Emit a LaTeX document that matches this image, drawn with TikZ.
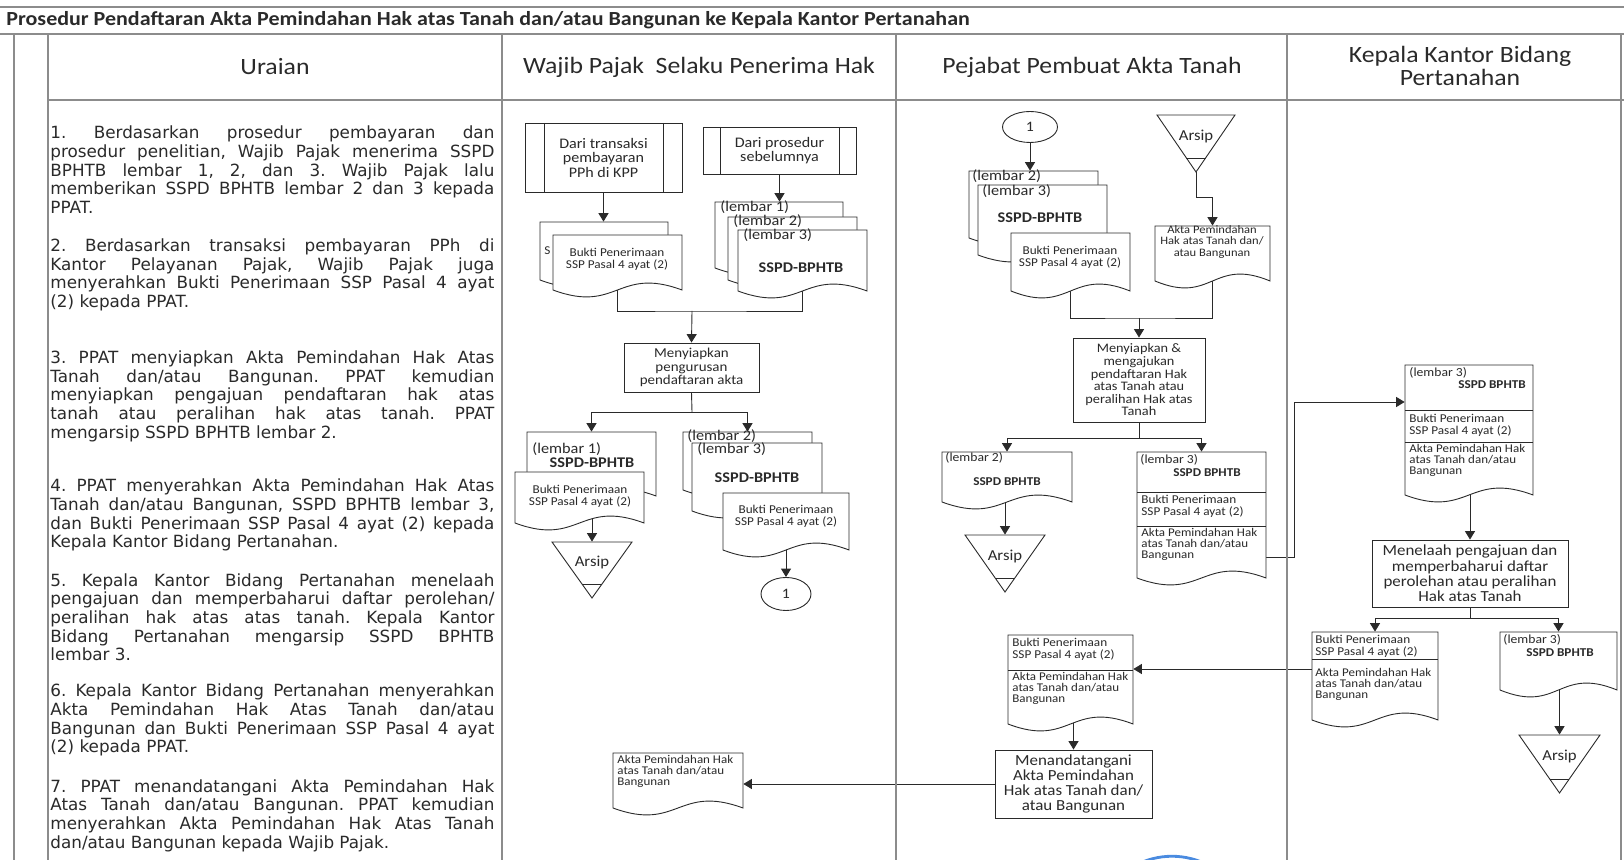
\documentclass[tikz,border=0pt]{standalone}
\usepackage{fontspec}
\setmainfont[FakeStretch=1.1]{Carlito}
\newfontfamily\urfont{DejaVu Sans}
\usetikzlibrary{arrows.meta,shapes.geometric,fit,backgrounds}
\tolerance=10000
\hbadness=10000
\frenchspacing
\definecolor{ink}{HTML}{2A2A2A}
\definecolor{frame}{HTML}{8C8C8C}
\definecolor{stampblue}{HTML}{4A8BE0}
\tikzset{
  shp/.style={draw=ink,line width=0.45pt,fill=white},
  ln/.style={draw=ink,line width=0.45pt},
  arr/.style={ln,-{Triangle[length=4.2pt,width=5pt]}},
  frm/.style={draw=frame,line width=0.65pt},
  tx/.style={inner sep=0pt,text=ink},
  hdr/.style={tx,align=center,font=\fontsize{11.7}{11.5}\selectfont},
  urp/.style={tx,anchor=north west,text width=222pt,align=justify,font=\urfont\fontsize{8.4}{9.32}\selectfont\frenchspacing},
  pptxt/.style={tx,align=center,font=\fontsize{7.3}{7.25}\selectfont},
  boxtxt/.style={tx,align=center,font=\fontsize{6.8}{6.6}\selectfont},
  bigbox/.style={tx,align=center,font=\fontsize{7.7}{7.6}\selectfont},
  smc/.style={tx,align=center,font=\fontsize{6}{6}\selectfont},
  sml/.style={tx,align=left,anchor=west,font=\fontsize{6}{6}\selectfont},
  smt/.style={tx,align=left,anchor=west,font=\fontsize{5.9}{5.5}\selectfont},
  lem/.style={tx,anchor=west,font=\fontsize{7.4}{7.4}\selectfont},
  lemb/.style={tx,font=\bfseries\fontsize{7.4}{7.4}\selectfont},
  lems/.style={tx,anchor=west,font=\fontsize{6.2}{6.2}\selectfont},
  smb/.style={tx,font=\bfseries\fontsize{6}{6}\selectfont},
  arsipt/.style={tx,font=\fontsize{7.6}{7.6}\selectfont},
  circ/.style={shp,ellipse,inner sep=0pt,text=ink,font=\fontsize{7.2}{7.2}\selectfont},
}
% document shape: name, x1, ytop, x2, ybottom
\newcommand\docshp[5]{%
  \draw[shp] (#2,#3) -- (#4,#3) -- (#4,#5) .. controls ({(#2+#4)/2},{#5-24}) and ({(#2+#4)/2},{#5+24}) .. (#2,#5) -- cycle;
  \node[fit={(#2,#3) (#4,#5)},inner sep=0pt] (#1) {};}
% archive triangle: name, xl, ytop, xr, yapex
\newcommand\arsip[5]{%
  \draw[shp] (#2,#3) -- (#4,#3) -- ({(#2+#4)/2},#5) -- cycle;
  \node[fit={(#2,#3) (#4,#5)},inner sep=0pt] (#1) {};
  \pgfmathsetmacro\arhw{(#4-#2)/2*14/(#5-#3)}
  \draw[ln] ({(#2+#4)/2-\arhw},{#5-14}) -- ({(#2+#4)/2+\arhw},{#5-14});
  \node[arsipt] (#1-t) at ({(#2+#4)/2},{#3+(#5-#3)*0.37}) {Arsip};}
% predefined process: name, x1, y1, x2, y2, inset
\newcommand\ppbox[6]{%
  \draw[shp] (#2,#3) rectangle (#4,#5);
  \draw[ln] ({#2+#6},#3) -- ({#2+#6},#5) ({#4-#6},#3) -- ({#4-#6},#5);
  \node[fit={(#2,#3) (#4,#5)},inner sep=0pt] (#1) {};}
% process box: name, x1, y1, x2, y2
\newcommand\procbox[5]{%
  \node[shp,fit={(#2,#3) (#4,#5)},inner sep=0pt] (#1) {};}

\begin{document}
\begin{tikzpicture}[x=0.5pt,y=-0.5pt]
\useasboundingbox (0,0) rectangle (1624,860);

% ---------- frame ----------
\draw[frm] (0,7) -- (1624,7);
\draw[frm] (0,34) -- (1624,34);
\draw[frm] (48,100) -- (1624,100);
\foreach \xx in {14,48,502,896,1287,1621} \draw[frm] (\xx,34) -- (\xx,860);

\node[tx,anchor=west,font=\bfseries\fontsize{10}{10}\selectfont] (title) at (6,20)
  {Prosedur Pendaftaran Akta Pemindahan Hak atas Tanah dan/atau Bangunan ke Kepala Kantor Pertanahan};
\node[hdr] (h1) at (275,67) {Uraian};
\node[hdr] (h2) at (699,67) {Wajib Pajak\ \ Selaku Penerima Hak};
\node[hdr] (h3) at (1092,67) {Pejabat Pembuat Akta Tanah};
\node[hdr] (h4) at (1460,66) {Kepala Kantor Bidang\\Pertanahan};

% ---------- Uraian ----------
\node[urp] (u1) at (50,125.6) {1. Berdasarkan prosedur pembayaran dan\linebreak prosedur penelitian, Wajib Pajak menerima SSPD\linebreak BPHTB lembar 1, 2, dan 3. Wajib Pajak lalu\linebreak memberikan SSPD BPHTB lembar 2 dan 3 kepada\linebreak PPAT.};
\node[urp] (u2) at (50,238.5) {2. Berdasarkan transaksi pembayaran PPh di\linebreak Kantor Pelayanan Pajak, Wajib Pajak juga\linebreak menyerahkan Bukti Penerimaan SSP Pasal 4 ayat\linebreak (2) kepada PPAT.};
\node[urp] (u3) at (50,350.3) {3. PPAT menyiapkan Akta Pemindahan Hak Atas\linebreak Tanah dan/atau Bangunan. PPAT kemudian\linebreak menyiapkan pengajuan pendaftaran hak atas\linebreak tanah atau peralihan hak atas tanah. PPAT\linebreak mengarsip SSPD BPHTB lembar 2.};
\node[urp] (u4) at (50,478.7) {4. PPAT menyerahkan Akta Pemindahan Hak Atas\linebreak Tanah dan/atau Bangunan, SSPD BPHTB lembar 3,\linebreak dan Bukti Penerimaan SSP Pasal 4 ayat (2) kepada\linebreak Kepala Kantor Bidang Pertanahan.};
\node[urp] (u5) at (50,573) {5. Kepala Kantor Bidang Pertanahan menelaah\linebreak pengajuan dan memperbaharui daftar perolehan/\linebreak peralihan hak atas atas tanah. Kepala Kantor\linebreak Bidang Pertanahan mengarsip SSPD BPHTB\linebreak lembar 3.};
\node[urp] (u6) at (50,683.8) {6. Kepala Kantor Bidang Pertanahan menyerahkan\linebreak Akta Pemindahan Hak Atas Tanah dan/atau\linebreak Bangunan dan Bukti Penerimaan SSP Pasal 4 ayat\linebreak (2) kepada PPAT.};
\node[urp] (u7) at (50,779) {7. PPAT menandatangani Akta Pemindahan Hak\linebreak Atas Tanah dan/atau Bangunan. PPAT kemudian\linebreak menyerahkan Akta Pemindahan Hak Atas Tanah\linebreak dan/atau Bangunan kepada Wajib Pajak.};

% ---------- Wajib Pajak ----------
\ppbox{pp1}{525}{123}{682}{192}{19}
\node[pptxt] (pp1-t) at (pp1.center) {Dari transaksi\\pembayaran\\PPh di KPP};
\ppbox{pp2}{703}{127}{856}{174}{17}
\node[pptxt] (pp2-t) at (pp2.center) {Dari prosedur\\sebelumnya};

\docshp{backA}{540}{222}{668}{280}
\node[sml] (backA-t) at (544,251) {S};
\docshp{frontA}{553}{235}{682}{290}
\node[smc] (frontA-t) at (617,259) {Bukti Penerimaan\\SSP Pasal 4 ayat (2)};

\docshp{d1}{715}{202}{843}{268}
\node[lem] (d1-t) at (720,207) {(lembar 1)};
\docshp{d2}{728}{217}{857}{280}
\node[lem] (d2-t) at (733,221) {(lembar 2)};
\docshp{d3}{738}{230}{867}{291}
\node[lem] (d3-t) at (743,235) {(lembar 3)};
\node[lemb] (d3-b) at (801,268) {SSPD-BPHTB};

\procbox{box1}{624}{343}{759}{392}
\node[boxtxt] (box1-t) at (box1.center) {Menyiapkan\\pengurusan\\pendaftaran akta};

\docshp{b1}{527}{432}{656}{496}
\node[lem] (b1-t) at (532,449) {(lembar 1)};
\node[lemb] (b1-b) at (592,463) {SSPD-BPHTB};
\docshp{b2}{515}{472}{644}{523}
\node[smc] (b2-t) at (580,496) {Bukti Penerimaan\\SSP Pasal 4 ayat (2)};
\arsip{arsip1}{552}{542}{632}{598}

\docshp{c1}{683}{432}{812}{490}
\node[lem] (c1-t) at (687,436) {(lembar 2)};
\docshp{c2}{692}{443}{822}{511}
\node[lem] (c2-t) at (697,449) {(lembar 3)};
\node[lemb] (c2-b) at (757,478) {SSPD-BPHTB};
\docshp{c3}{723}{493}{849}{550}
\node[smc] (c3-t) at (786,516) {Bukti Penerimaan\\SSP Pasal 4 ayat (2)};
\node[circ,minimum width=25pt,minimum height=16.5pt] (circ1) at (786,594) {1};

\docshp{akta}{613}{753}{743}{808}
\node[smt] (akta-t) at (617,771.5) {Akta Pemindahan Hak\\atas Tanah dan/atau\\Bangunan};

% ---------- PPAT ----------
\node[circ,minimum width=27.5pt,minimum height=15.5pt] (circ2) at (1030,127) {1};
\docshp{e1}{969}{171}{1098}{238}
\node[lem] (e1-t) at (972,176) {(lembar 2)};
\docshp{e2}{978}{185}{1107}{255}
\node[lem] (e2-t) at (982,191) {(lembar 3)};
\node[lemb] (e2-b) at (1040,218) {SSPD-BPHTB};
\docshp{e3}{1011}{233}{1130}{291}
\node[smc] (e3-t) at (1070,257.5) {Bukti Penerimaan\\SSP Pasal 4 ayat (2)};
\arsip{arsip2}{1157}{115}{1235}{172}
\docshp{docE}{1155}{226}{1270}{281}
\node[tx,align=center,font=\fontsize{5.7}{5.75}\selectfont] (docE-t) at (1212,242) {Akta Pemindahan\\Hak atas Tanah dan/\\atau Bangunan};

\procbox{box2}{1073}{338}{1205}{422}
\node[tx,align=center,font=\fontsize{6.5}{6.3}\selectfont] (box2-t) at (box2.center) {Menyiapkan \&\\mengajukan\\pendaftaran Hak\\atas Tanah atau\\peralihan Hak atas\\Tanah};

\docshp{docF}{942}{452}{1072}{502}
\node[lems] (docF-t) at (945,458) {(lembar 2)};
\node[smb] (docF-b) at (1007,482) {SSPD BPHTB};
\arsip{arsip3}{965}{535}{1045}{592}

\docshp{docG}{1137}{452}{1266}{578}
\draw[ln] (1137,492) -- (1266,492);
\draw[ln] (1137,526) -- (1266,526);
\node[lems] (docG-t) at (1140,460) {(lembar 3)};
\node[smb] (docG-b) at (1207,473) {SSPD BPHTB};
\node[sml] (docG-s2) at (1141,506.5) {Bukti Penerimaan\\SSP Pasal 4 ayat (2)};
\node[smt] (docG-s3) at (1141,544) {Akta Pemindahan Hak\\atas Tanah dan/atau\\Bangunan};

\docshp{docK}{1008}{635}{1133}{724}
\draw[ln] (1008,670) -- (1133,670);
\node[sml] (docK-s1) at (1012,649.5) {Bukti Penerimaan\\SSP Pasal 4 ayat (2)};
\node[smt] (docK-s2) at (1012,688) {Akta Pemindahan Hak\\atas Tanah dan/atau\\Bangunan};

\procbox{box4}{995}{750}{1152}{818}
\node[bigbox] (box4-t) at (box4.center) {Menandatangani\\Akta Pemindahan\\Hak atas Tanah dan/\\atau Bangunan};

% ---------- Kepala Kantor ----------
\docshp{docH}{1405}{365}{1533}{495}
\draw[ln] (1405,410) -- (1533,410);
\draw[ln] (1405,442) -- (1533,442);
\node[lems] (docH-t) at (1409,373) {(lembar 3)};
\node[smb] (docH-b) at (1492,385) {SSPD BPHTB};
\node[sml] (docH-s2) at (1409,425) {Bukti Penerimaan\\SSP Pasal 4 ayat (2)};
\node[smt] (docH-s3) at (1409,460) {Akta Pemindahan Hak\\atas Tanah dan/atau\\Bangunan};

\procbox{box3}{1372}{540}{1568}{607}
\node[bigbox] (box3-t) at (box3.center) {Menelaah pengajuan dan\\memperbaharui daftar\\perolehan atau peralihan\\Hak atas Tanah};

\docshp{docI}{1312}{632}{1438}{720}
\draw[ln] (1312,659) -- (1438,659);
\node[sml] (docI-s1) at (1315,646) {Bukti Penerimaan\\SSP Pasal 4 ayat (2)};
\node[smt] (docI-s2) at (1315,684) {Akta Pemindahan Hak\\atas Tanah dan/atau\\Bangunan};

\docshp{docJ}{1500}{632}{1617}{690}
\node[lems] (docJ-t) at (1503,640) {(lembar 3)};
\node[smb] (docJ-b) at (1560,653) {SSPD BPHTB};
\arsip{arsip4}{1519}{735}{1600}{793}

% stamp fragment
\draw[stampblue,line width=1.4pt] (1134,866) .. controls (1158,853) and (1186,853) .. (1210,866);

% ---------- connectors ----------
\coordinate (j1) at (692,311);
\coordinate (j2) at (692,412);
\coordinate (j3) at (1139,318);
\coordinate (j4) at (1139,438);
\coordinate (j5) at (1470,618);
\coordinate (k1) at (1294,557);
\coordinate (k2) at (1294,402);
\coordinate (r1) at (0,669);
\begin{pgfonlayer}{background}
\draw[arr] (pp1.south) -- (pp1.south |- backA.north);
\draw[arr] (pp2.south) -- (pp2.south |- d1.north);
\draw[ln] (frontA.center) |- (j1) -| (d3.center);
\draw[arr] (j1) -- (box1.north);
\draw[ln] (box1.south) -- (j2);
\draw[arr] (j2) -| (b1.north);
\draw[arr] (j2) -| (c1.north);
\draw[arr] (arsip1.north |- b2.center) -- (arsip1.north);
\draw[arr] (circ1.north |- c3.center) -- (circ1.north);
\draw[arr] (box4.west) -- (box4.west -| akta.east);

\draw[arr] (circ2.south) -- (circ2.south |- e1.north);
\draw[arr] (arsip2.south) -- ++(0,25) -| (docE.north);
\draw[ln] (e3.center) |- (j3) -| (docE.center);
\draw[arr] (j3) -- (box2.north);
\draw[ln] (box2.south) -- (j4);
\draw[arr] (j4) -| (docF.north);
\draw[arr] (j4) -| (docG.north);
\draw[arr] (arsip3.north |- docF.center) -- (arsip3.north);
\draw[arr] (docG.east |- k1) -- (k1) -- (k2) -- (k2 -| docH.west);
\draw[arr] (box3.north |- docH.center) -- (box3.north);
\draw[ln] (box3.south) -- (j5);
\draw[arr] (j5) -| (docI.north);
\draw[arr] (j5) -| (docJ.north);
\draw[arr] (arsip4.north |- docJ.center) -- (arsip4.north);
\draw[arr] (docI.west |- r1) -- (docK.east |- r1);
\draw[arr] (box4.north |- docK.center) -- (box4.north);
\end{pgfonlayer}
\end{tikzpicture}
\end{document}
